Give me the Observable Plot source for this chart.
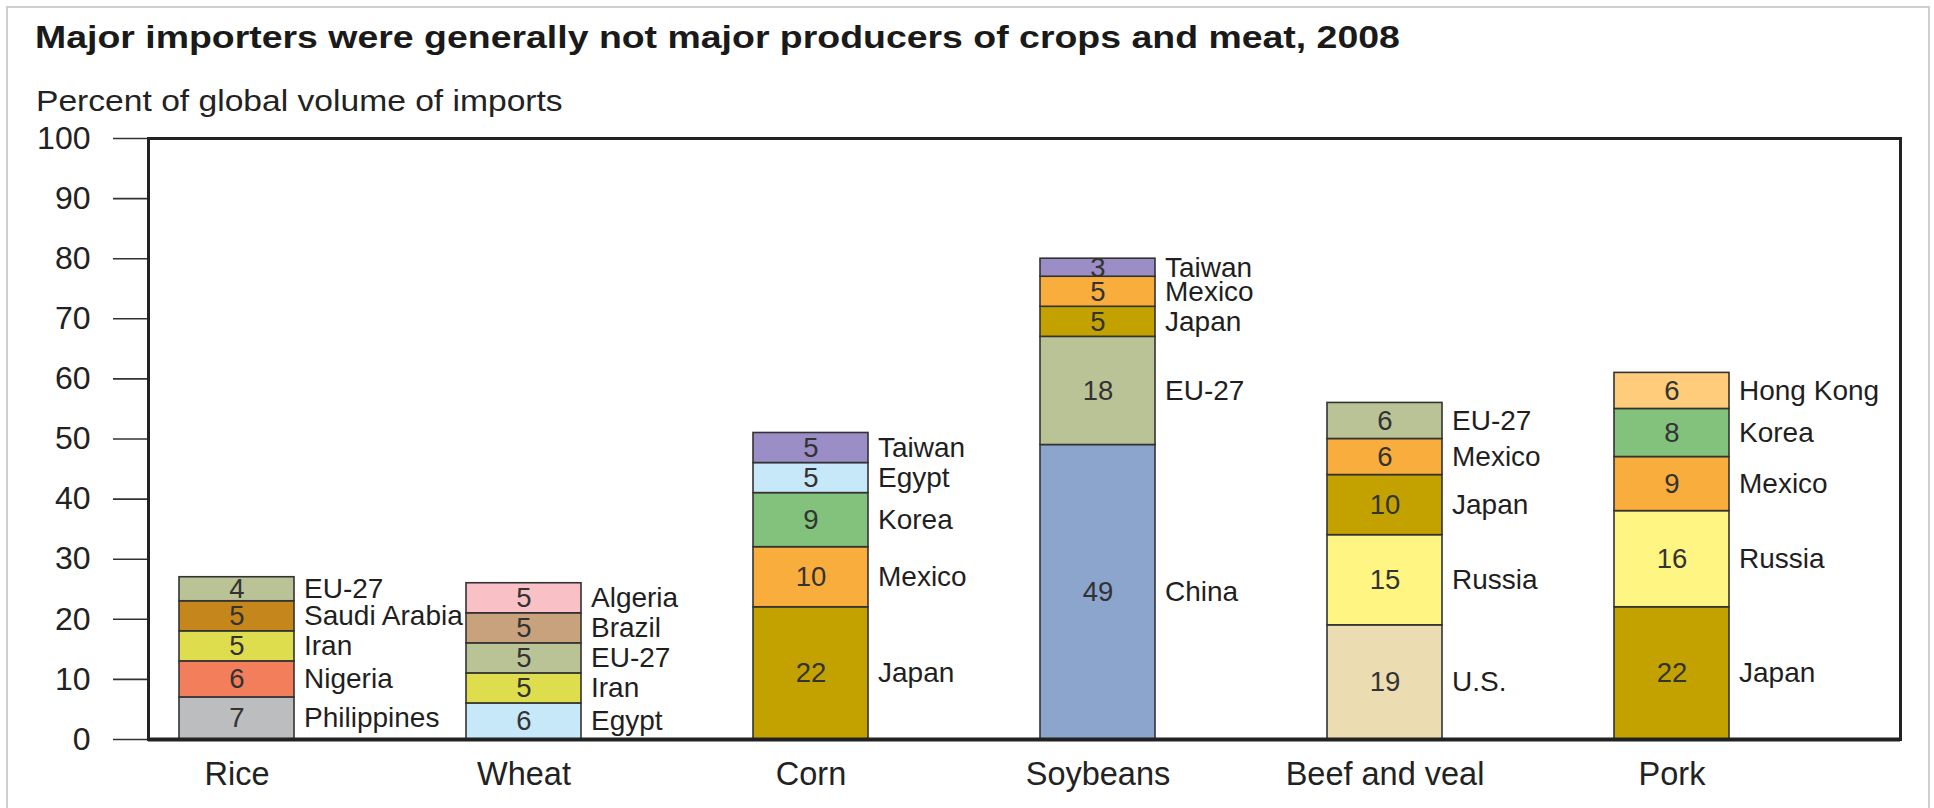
<!DOCTYPE html>
<html>
<head>
<meta charset="utf-8">
<script src="https://cdn.jsdelivr.net/npm/d3@7"></script>
<script src="https://cdn.jsdelivr.net/npm/@observablehq/plot@0.6"></script>
<style>
  html, body { margin: 0; padding: 0; background: #fff; overflow: hidden; }
  body { width: 1934px; height: 808px; position: relative; font-family: "Liberation Sans", Arial, sans-serif; color: #1a1a1a; }
  #border { position: absolute; left: 6px; top: 6px; width: 1924px; height: 840px; border: 2px solid #cfcfcf; box-sizing: border-box; pointer-events: none; }
  #title { padding-top: 17px; height: 40px; line-height: 40px; font-size: 32px; font-weight: bold; margin-left: 35px; transform: scaleX(1.17); transform-origin: left center; white-space: nowrap; color: #1a1a1a; }
  #subtitle { margin-top: 26px; height: 36px; line-height: 36px; font-size: 30px; margin-left: 36px; transform: scaleX(1.12); transform-origin: left center; white-space: nowrap; color: #222; }
  #chart svg { display: block; }
</style>
</head>
<body>
<div id="border"></div>
<div id="title">Major importers were generally not major producers of crops and meat, 2008</div>
<div id="subtitle">Percent of global volume of imports</div>
<div id="chart"></div>
<script>
// ---- Data ----
const crops = ["Rice", "Wheat", "Corn", "Soybeans", "Beef and veal", "Pork"];

// importers for each crop, listed bottom to top
const importers = [
  ["Philippines", "Nigeria", "Iran", "Saudi Arabia", "EU-27"],
  ["Egypt", "Iran", "EU-27", "Brazil", "Algeria"],
  ["Japan", "Mexico", "Korea", "Egypt", "Taiwan"],
  ["China", "EU-27", "Japan", "Mexico", "Taiwan"],
  ["U.S.", "Russia", "Japan", "Mexico", "EU-27"],
  ["Japan", "Russia", "Mexico", "Korea", "Hong Kong"]
];

// percent of global import volume, same order
const shares = [
  [7, 6, 5, 5, 4],
  [6, 5, 5, 5, 5],
  [22, 10, 9, 5, 5],
  [49, 18, 5, 5, 3],
  [19, 15, 10, 6, 6],
  [22, 16, 9, 8, 6]
];

const countries = ["Philippines", "Nigeria", "Iran", "Saudi Arabia", "EU-27", "Egypt", "Brazil", "Algeria",
                   "Japan", "Mexico", "Korea", "Taiwan", "China", "U.S.", "Russia", "Hong Kong"];
const countryColors = ["#bcbdbf", "#f27e5b", "#dedd4d", "#c5871b", "#bac396", "#c7e8f8", "#c7a27c", "#f9c1c5",
                       "#c3a200", "#f9ad3c", "#82c27d", "#9b8dc5", "#8ba5cc", "#ecdcb1", "#fff582", "#ffcc7b"];

const yTicks = [0, 10, 20, 30, 40, 50, 60, 70, 80, 90, 100];

// ---- Build table ----
const table = crops.flatMap((crop, i) =>
  importers[i].map((country, j) => ({crop, country, share: shares[i][j]}))
);

const font = "Liberation Sans, Arial, sans-serif";

const chart = Plot.plot({
  width: 1934,
  height: 689,
  marginLeft: 148,
  marginRight: 34,
  marginTop: 19,
  marginBottom: 69,
  style: {fontFamily: font, background: "transparent", overflow: "visible"},
  x: {type: "band", domain: crops, paddingInner: 0.5976, paddingOuter: 0.351, align: 0.155, axis: null},
  y: {domain: [0, 100], axis: null},
  color: {domain: countries, range: countryColors},
  marks: [
    Plot.barY(table, Plot.stackY({x: "crop", y: "share", fill: "country", stroke: "#333", strokeWidth: 1.6})),
    Plot.text(table, Plot.stackY({x: "crop", y: "share", text: d => String(d.share), fontSize: 27.5, fill: "#333"})),
    Plot.text(table, Plot.stackY({x: "crop", y: "share", text: "country", textAnchor: "start", dx: 67, fontSize: 28, fill: "#1f1f1f"})),
    Plot.axisY(yTicks, {tickSize: 35, tickPadding: 23, fontSize: 32, stroke: "#333", strokeWidth: 1.6, fill: "#222", label: null}),
    Plot.axisX({tickSize: 0, tickPadding: 22, fontSize: 32.5, fill: "#222", label: null}),
    Plot.frame({stroke: "#222", strokeWidth: 3}),
    Plot.ruleY([0], {stroke: "#222", strokeWidth: 4})
  ]
});

document.getElementById("chart").appendChild(chart);
</script>
</body>
</html>
